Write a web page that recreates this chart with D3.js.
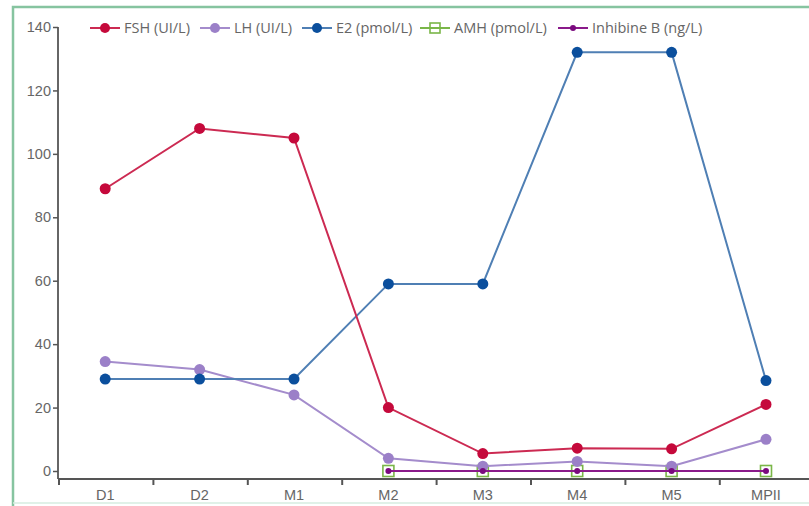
<!DOCTYPE html>
<html>
<head>
<meta charset="utf-8">
<script src="https://cdn.jsdelivr.net/npm/d3@7"></script>
<style>
  html, body { margin: 0; padding: 0; background: #fff; }
  svg { display: block; font-family: "Open Sans", Lato, sans-serif; }
</style>
</head>
<body>
<div id="chart"></div>
<script>
// Categories and series
const categories = ['D1', 'D2', 'M1', 'M2', 'M3', 'M4', 'M5', 'MPII'];
const fsh = [89, 108, 105, 20, 5.5, 7.2, 7, 21];
const lh = [34.5, 32, 24, 4, 1.5, 3, 1.5, 10];
const e2 = [29, 29, 29, 59, 59, 132, 132, 28.5];
const amh = [null, null, null, 0, 0, 0, 0, 0];
const inhibineB = [null, null, null, 0, 0, 0, 0, 0];
const yTicks = [0, 20, 40, 60, 80, 100, 120, 140];

const series = [
  { name: 'FSH (UI/L)', values: fsh, line: '#cc2a52', fill: '#c5093b', shape: 'circle', r: 5.5 },
  { name: 'LH (UI/L)', values: lh, line: '#a48ccc', fill: '#9b80c8', shape: 'circle', r: 5.5 },
  { name: 'E2 (pmol/L)', values: e2, line: '#4f7fb4', fill: '#0b4f9d', shape: 'circle', r: 5.5 },
  { name: 'AMH (pmol/L)', values: amh, line: '#7ab648', fill: 'none', shape: 'square', r: 5.5 },
  { name: 'Inhibine B (ng/L)', values: inhibineB, line: '#8a1a8a', fill: '#7a0a7e', shape: 'circle', r: 3 }
];

const W = 809, H = 506;
const M = { top: 27, left: 58, bottom: 479 };

const svg = d3.select('#chart').append('svg')
  .attr('width', W).attr('height', H);

// green frame (bottom edge only faint)
svg.append('path')
  .attr('d', `M13,${H}V7H${W}`)
  .attr('fill', 'none').attr('stroke', '#86c4a0').attr('stroke-width', 2.5);
svg.append('line')
  .attr('x1', 13).attr('x2', W).attr('y1', 503).attr('y2', 503)
  .attr('stroke', '#d6ece0').attr('stroke-width', 1.5);

const x = d3.scaleBand().domain(categories).range([M.left, M.left + 94.4 * categories.length]);
const y = d3.scaleLinear().domain([0, 140]).range([471, M.top]);
const cx = d => x(d) + x.bandwidth() / 2;

// y axis
const yAxis = svg.append('g')
  .attr('transform', `translate(${M.left},0)`)
  .call(d3.axisLeft(y).tickValues(yTicks).tickSize(5).tickSizeOuter(0));
yAxis.select('.domain').attr('d', `M0,${M.top}V${M.bottom}`);

// x axis, ticks at band boundaries
const xAxis = svg.append('g')
  .attr('transform', `translate(0,${M.bottom})`)
  .call(d3.axisBottom(x).tickSize(0).tickPadding(11));
xAxis.select('.domain').remove();
xAxis.append('line')
  .attr('x1', M.left).attr('x2', W).attr('stroke', '#555').attr('stroke-width', 2);
xAxis.selectAll('.bound')
  .data(categories.map(c => x(c)))
  .join('line')
  .attr('class', 'bound')
  .attr('x1', d => d + 1).attr('x2', d => d + 1)
  .attr('y1', 0).attr('y2', 6)
  .attr('stroke', '#555').attr('stroke-width', 2);

[yAxis, xAxis].forEach(a => {
  a.selectAll('.domain').attr('stroke', '#666').attr('stroke-width', 2);
  a.selectAll('.tick line').attr('stroke', '#555').attr('stroke-width', 1.5);
  a.selectAll('.tick text').attr('fill', '#666').attr('font-size', 14.5);
});
yAxis.selectAll('.tick text').attr('x', -7);

// lines and markers
const line = d3.line()
  .defined(d => d.v !== null)
  .x(d => cx(d.c)).y(d => y(d.v));

function marker(g, s) {
  if (s.shape === 'square') {
    return g.append('rect')
      .attr('x', -s.r).attr('y', -s.r).attr('width', 2 * s.r).attr('height', 2 * s.r)
      .attr('fill', 'none').attr('stroke', s.line).attr('stroke-width', 1.6);
  }
  return g.append('circle').attr('r', s.r).attr('fill', s.fill);
}

// draw order: AMH first, then others
const order = [3, 1, 2, 0, 4];
order.forEach(i => {
  const s = series[i];
  const pts = categories.map((c, j) => ({ c, v: s.values[j] }));
  svg.append('path')
    .datum(pts)
    .attr('fill', 'none')
    .attr('stroke', s.line)
    .attr('stroke-width', i === 3 ? 1.6 : 2)
    .attr('d', line);
  pts.filter(p => p.v !== null).forEach(p => {
    const g = svg.append('g').attr('transform', `translate(${cx(p.c)},${y(p.v)})`);
    marker(g, s);
  });
});

// legend
const legendX = [90, 200, 302, 420, 558];
const legend = svg.append('g').attr('transform', 'translate(0,28)');
series.forEach((s, i) => {
  const g = legend.append('g').attr('transform', `translate(${legendX[i]},0)`);
  g.append('line').attr('x1', 0).attr('x2', 30)
    .attr('stroke', s.line).attr('stroke-width', 2);
  const m = g.append('g').attr('transform', 'translate(15,0)');
  marker(m, { ...s, r: s.shape === 'square' ? 5 : (s.r > 4 ? 5 : 3) });
  g.append('text')
    .attr('x', 34).attr('y', 5)
    .attr('font-size', 14.5).attr('fill', '#666')
    .text(s.name);
});
</script>
</body>
</html>
